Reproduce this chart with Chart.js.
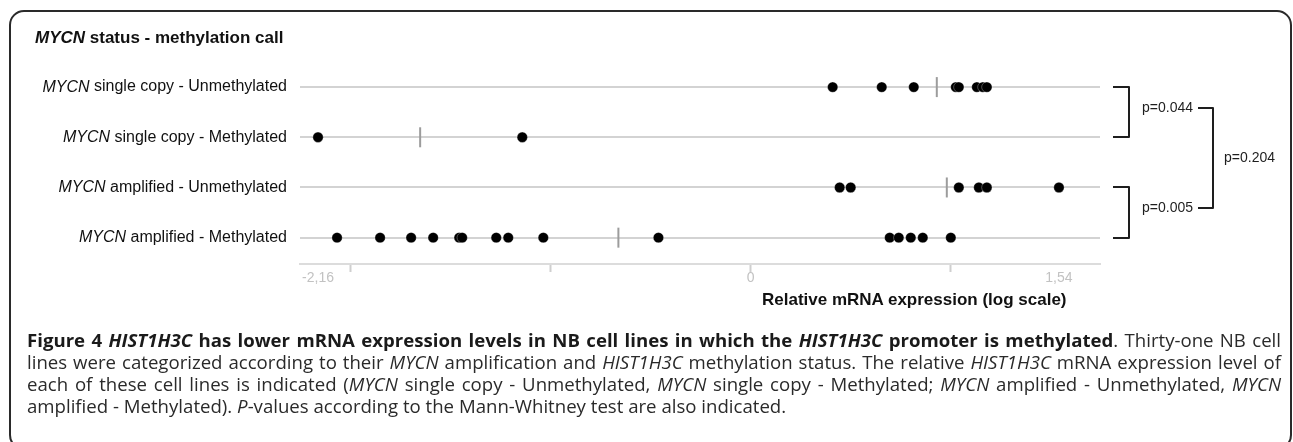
<!DOCTYPE html>
<html>
<head>
<meta charset="utf-8">
<script src="https://cdn.jsdelivr.net/npm/chart.js@4.4.0/dist/chart.umd.min.js"></script>
<style>
  html, body { margin:0; padding:0; background:#fff; width:1293px; height:442px; overflow:hidden; }
  body { font-family: "Liberation Sans", Arial, Helvetica, sans-serif; color:#111; position:relative; }
  #frame { position:absolute; left:9px; top:10px; width:1283px; height:440px; border:2px solid #2a2a2a; border-radius:15px; box-sizing:border-box; }
  #wrap { position:absolute; left:0; top:0; width:1293px; height:330px; }
  #title { position:absolute; left:35px; top:28px; font-size:17px; line-height:20px; font-weight:bold; white-space:nowrap; }
  #xtitle { position:absolute; left:762px; top:290px; font-size:17px; line-height:20px; font-weight:bold; white-space:nowrap; color:#111; }
  #caption { position:absolute; left:27px; top:329px; width:1254px; font-family:"Open Sans", "Noto Sans", sans-serif; font-size:17px; line-height:22px; color:#2a2a2a; }
  #caption .ln { text-align:justify; text-align-last:justify; white-space:nowrap; }
  #caption .ln.last { text-align-last:left; }
  #caption b { color:#1a1a1a; }
</style>
</head>
<body>
<div id="frame"></div>
<div id="wrap"><canvas id="c" width="1293" height="330"></canvas></div>
<div id="title"><i>MYCN</i> status - methylation call</div>
<div id="xtitle">Relative mRNA expression (log scale)</div>
<div id="caption">
  <div class="ln"><b>Figure 4 <i>HIST1H3C</i> has lower mRNA expression levels in NB cell lines in which the <i>HIST1H3C</i> promoter is methylated</b>. Thirty-one NB cell</div>
  <div class="ln">lines were categorized according to their <i>MYCN</i> amplification and <i>HIST1H3C</i> methylation status. The relative <i>HIST1H3C</i> mRNA expression level of</div>
  <div class="ln">each of these cell lines is indicated (<i>MYCN</i> single copy - Unmethylated, <i>MYCN</i> single copy - Methylated; <i>MYCN</i> amplified - Unmethylated, <i>MYCN</i></div>
  <div class="ln last">amplified - Methylated). <i>P</i>-values according to the Mann-Whitney test are also indicated.</div>
</div>
<script>
// ---------- data ----------
const rowGene = ['MYCN', 'MYCN', 'MYCN', 'MYCN'];
const rowCategories = [' single copy - Unmethylated', ' single copy - Methylated', ' amplified - Unmethylated', ' amplified - Methylated'];
const singleCopyUnmethylated = [0.41, 0.655, 0.815, 1.025, 1.04, 1.13, 1.16, 1.18];
const singleCopyMethylated = [-2.16, -1.14];
const amplifiedUnmethylated = [0.445, 0.50, 1.04, 1.14, 1.18, 1.54];
const amplifiedMethylated = [-2.065, -1.85, -1.695, -1.585, -1.455, -1.44, -1.27, -1.21, -1.035, -0.46, 0.695, 0.74, 0.80, 0.86, 1.0];
const groupMeans = [0.93, -1.65, 0.98, -0.66];
const tickValues = [-2.16, -2, -1, 0, 1, 1.54];
const tickLabels = ['-2,16', '', '', '0', '', '1,54'];
const pairPValues = ['p=0.044', 'p=0.005'];
const overallPValue = 'p=0.204';

const rows = [singleCopyUnmethylated, singleCopyMethylated, amplifiedUnmethylated, amplifiedMethylated];

// ---------- caption fit: font size chosen so the widest line just fills the column ----------
(function(){
  const cap = document.getElementById('caption');
  const target = 1254;
  let maxW = 0;
  cap.querySelectorAll('.ln').forEach(ln => {
    if (ln.classList.contains('last')) return;
    const s = document.createElement('span');
    s.innerHTML = ln.innerHTML; s.style.whiteSpace = 'nowrap';
    s.style.position = 'absolute'; s.style.visibility = 'hidden';
    cap.appendChild(s);
    maxW = Math.max(maxW, s.getBoundingClientRect().width);
    cap.removeChild(s);
  });
  const fs = 17 * (target * 0.985) / maxW;
  cap.style.fontSize = fs.toFixed(2) + 'px';
})();

// ---------- chart ----------
const datasets = rows.map((vals, i) => ({
  label: rowGene[i] + rowCategories[i],
  data: vals.map(v => ({ x: v, y: i + 1 })),
  pointRadius: 5.2,
  pointBackgroundColor: '#000',
  pointBorderColor: 'rgba(255,255,255,0.5)',
  pointBorderWidth: 0.6,
  showLine: false,
  order: 1
}));
datasets.push({
  label: 'mean',
  data: groupMeans.map((m, i) => ({ x: m, y: i + 1 })),
  pointStyle: 'line',
  rotation: 90,
  pointRadius: 10,
  pointBorderColor: '#9c9c9c',
  pointBorderWidth: 2,
  showLine: false,
  order: 2
});

const FONT = '"Liberation Sans", Arial, Helvetica, sans-serif';

const decor = {
  id: 'decor',
  beforeDatasetsDraw(chart) {
    const { ctx, chartArea: a, scales: { y } } = chart;
    ctx.save();
    ctx.strokeStyle = '#d3d3d3';
    ctx.lineWidth = 2;
    rows.forEach((_, i) => {
      const py = Math.round(y.getPixelForValue(i + 1));
      ctx.beginPath(); ctx.moveTo(a.left, py); ctx.lineTo(a.right, py); ctx.stroke();
    });
    ctx.restore();
  },
  afterDraw(chart) {
    const { ctx, chartArea: a, scales: { y } } = chart;
    ctx.save();
    // row labels
    ctx.fillStyle = '#111';
    ctx.textBaseline = 'middle';
    ctx.textAlign = 'left';
    const rightEdge = a.left - 13;
    rows.forEach((_, i) => {
      const py = y.getPixelForValue(i + 1);
      ctx.font = '16px ' + FONT;
      const w = ctx.measureText(rowCategories[i]).width;
      ctx.fillText(rowCategories[i], rightEdge - w, py);
      ctx.font = 'italic 16px ' + FONT;
      const wi = ctx.measureText(rowGene[i]).width;
      ctx.fillText(rowGene[i], rightEdge - w - wi, py);
    });
    // brackets
    const R = a.right;
    const ys = rows.map((_, i) => Math.round(y.getPixelForValue(i + 1)));
    ctx.strokeStyle = '#1e1e1e';
    ctx.lineWidth = 2;
    ctx.lineJoin = 'round';
    const pairs = [[ys[0], ys[1]], [ys[2], ys[3]]];
    const dashY = [];
    ctx.font = '14px ' + FONT;
    ctx.fillStyle = '#1e1e1e';
    pairs.forEach(([ya, yb], k) => {
      ctx.beginPath();
      ctx.moveTo(R + 13, ya); ctx.lineTo(R + 29, ya); ctx.lineTo(R + 29, yb); ctx.lineTo(R + 13, yb);
      ctx.stroke();
      const my = Math.round((ya + yb) / 2 - 4.5);
      dashY.push(my);
      ctx.fillText(pairPValues[k], R + 42, my);
    });
    ctx.beginPath();
    ctx.moveTo(R + 98, dashY[0]); ctx.lineTo(R + 113, dashY[0]); ctx.lineTo(R + 113, dashY[1]); ctx.lineTo(R + 98, dashY[1]);
    ctx.stroke();
    ctx.fillText(overallPValue, R + 124, (dashY[0] + dashY[1]) / 2);
    ctx.restore();
  }
};

new Chart(document.getElementById('c'), {
  type: 'scatter',
  data: { datasets },
  options: {
    responsive: false,
    maintainAspectRatio: false,
    animation: false,
    events: [],
    layout: { padding: { left: 300, right: 193, top: 62, bottom: 0 } },
    plugins: { legend: { display: false }, tooltip: { enabled: false }, title: { display: false } },
    scales: {
      y: {
        type: 'linear', display: false, reverse: true, min: 0.5, max: 4.525
      },
      x: {
        type: 'linear', min: -2.25, max: 1.745, position: 'bottom',
        afterFit(scale) { scale.height = 66; },
        afterBuildTicks(scale) { scale.ticks = tickValues.map(v => ({ value: v })); },
        border: { display: true, color: '#dcdcdc', width: 2 },
        grid: {
          display: true, drawOnChartArea: false, drawTicks: true, tickLength: 8, tickWidth: 2,
          tickColor: (c) => (c.tick && (c.tick.value === tickValues[0] || c.tick.value === tickValues[tickValues.length - 1])) ? 'rgba(0,0,0,0)' : '#cfcfcf'
        },
        ticks: {
          autoSkip: false, maxRotation: 0, padding: -2,
          color: '#c2c2c2',
          font: { family: FONT, size: 14 },
          callback: (v) => { const i = tickValues.indexOf(v); return i >= 0 ? tickLabels[i] : ''; }
        }
      }
    }
  },
  plugins: [decor]
});
</script>
</body>
</html>
